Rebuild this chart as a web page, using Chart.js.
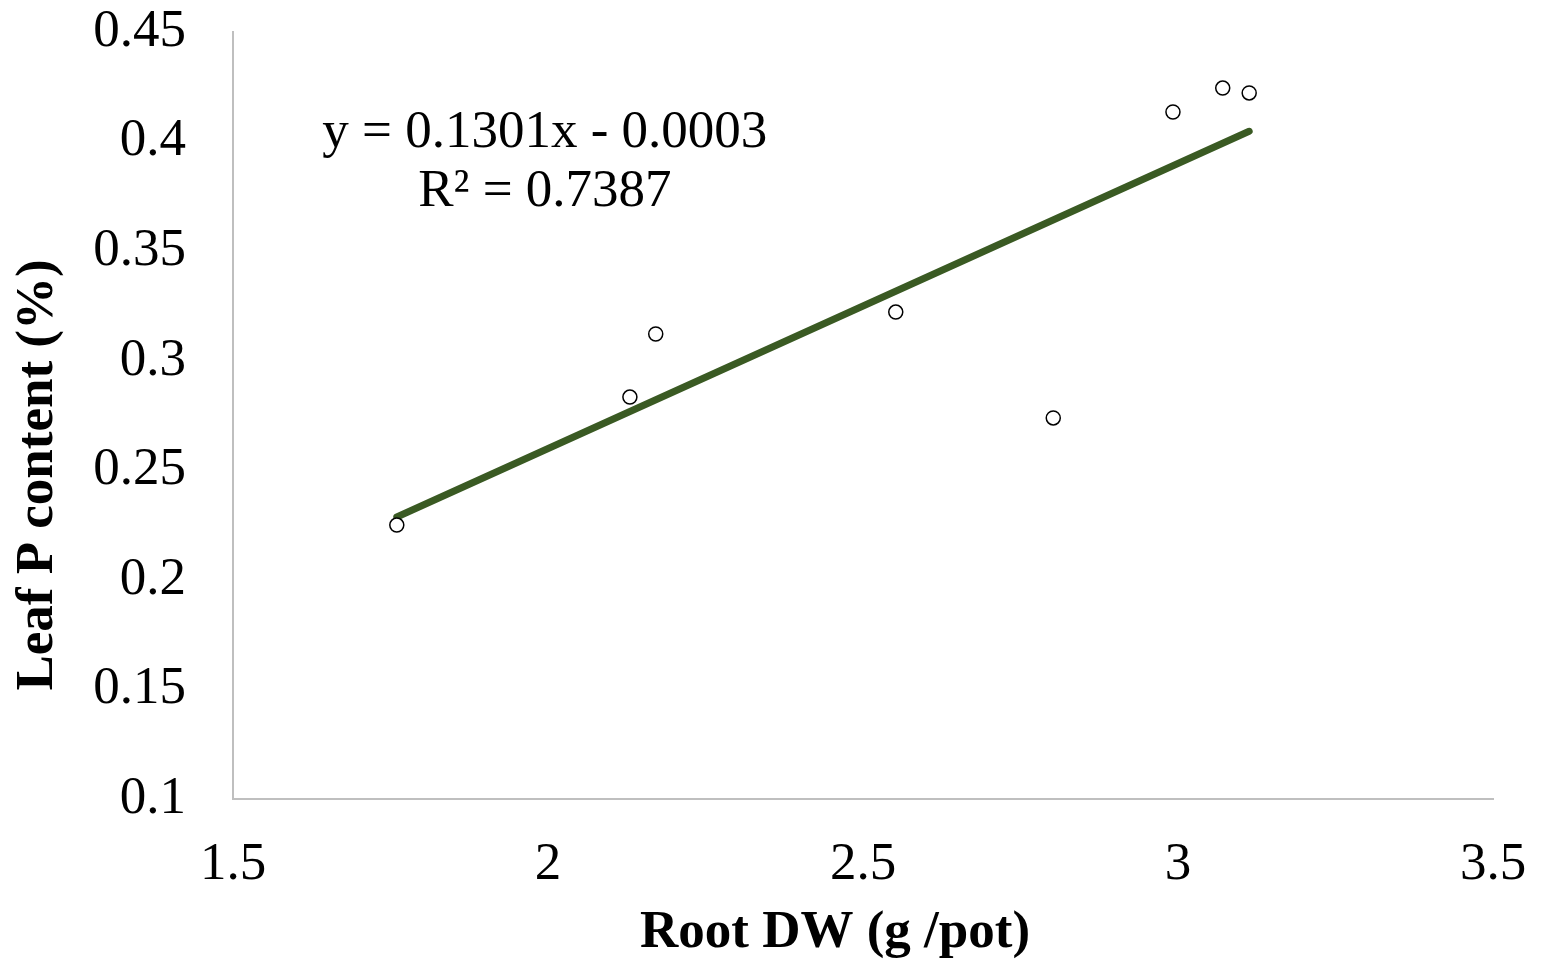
<!DOCTYPE html>
<html>
<head>
<meta charset="utf-8">
<script src="https://cdn.jsdelivr.net/npm/chart.js@4.4.1/dist/chart.umd.min.js"></script>
<style>
  html, body { margin: 0; padding: 0; background: #ffffff; }
  #c { display: block; }
</style>
</head>
<body>
<canvas id="c" width="1545" height="963"></canvas>
<script>
// ---- data ----
const rootDW = [1.76, 2.13, 2.171, 2.552, 2.802, 2.992, 3.071, 3.113];
const leafP  = [0.225, 0.2834, 0.3122, 0.3222, 0.2739, 0.4135, 0.4244, 0.4222];
const slope = 0.1301;
const intercept = -0.0003;
const equationText = "y = 0.1301x - 0.0003";
const r2Text = "R² = 0.7387";
const xTitle = "Root DW (g /pot)";
const yTitle = "Leaf P content (%)";
const xTicks = [1.5, 2, 2.5, 3, 3.5];
const yTicks = [0.1, 0.15, 0.2, 0.25, 0.3, 0.35, 0.4, 0.45];

const points = rootDW.map((x, i) => ({ x: x, y: leafP[i] }));
const xMin = Math.min(...rootDW), xMax = Math.max(...rootDW);
const trend = [
  { x: xMin, y: slope * xMin + intercept },
  { x: xMax, y: slope * xMax + intercept }
];

const SERIF = '"Liberation Serif", "Times New Roman", serif';

const textPlugin = {
  id: 'texts',
  afterDraw(chart) {
    const ctx = chart.ctx;
    ctx.save();
    ctx.fillStyle = '#000000';
    ctx.textAlign = 'center';
    ctx.textBaseline = 'alphabetic';
    ctx.font = '53px ' + SERIF;
    const xs = chart.scales.x, ys = chart.scales.y;
    const ex = xs.getPixelForValue(1.995);
    ctx.fillText(equationText, ex, ys.getPixelForValue(0.3975));
    ctx.fillText(r2Text, ex, ys.getPixelForValue(0.3706));
    ctx.font = 'bold 53px ' + SERIF;
    ctx.fillText(xTitle, 835, 947);
    ctx.translate(38, 475);
    ctx.rotate(-Math.PI / 2);
    ctx.textBaseline = 'middle';
    ctx.fillText(yTitle, 0, 0);
    ctx.restore();
  }
};

new Chart(document.getElementById('c'), {
  type: 'scatter',
  data: {
    datasets: [
      {
        type: 'line',
        data: trend,
        borderColor: '#3a5a23',
        borderWidth: 7,
        borderCapStyle: 'round',
        pointRadius: 0,
        fill: false,
        order: 2
      },
      {
        data: points,
        pointRadius: 7,
        pointBorderWidth: 1.5,
        pointBorderColor: '#000000',
        pointBackgroundColor: '#ffffff',
        showLine: false,
        order: 1
      }
    ]
  },
  options: {
    responsive: false,
    animation: false,
    devicePixelRatio: 1,
    layout: { padding: { top: 32, right: 52, left: 0, bottom: 0 } },
    plugins: { legend: { display: false }, tooltip: { enabled: false } },
    scales: {
      x: {
        type: 'linear',
        min: 1.5, max: 3.5,
        afterBuildTicks(s) { s.ticks = xTicks.map(v => ({ value: v })); },
        afterFit(s) { s.height = 164; s.paddingLeft = 0; s.paddingRight = 0; s.paddingTop = 0; s.paddingBottom = 0; },
        grid: { color: 'rgba(0,0,0,0)', drawTicks: false },
        border: { display: true, color: '#bfbfbf', width: 2 },
        ticks: {
          padding: 34,
          color: '#000000',
          font: { family: SERIF, size: 53 },
          maxRotation: 0,
          callback: v => String(v)
        }
      },
      y: {
        type: 'linear',
        min: 0.1, max: 0.45,
        afterBuildTicks(s) { s.ticks = yTicks.map(v => ({ value: v })); },
        afterFit(s) { s.width = 233; s.paddingLeft = 0; s.paddingRight = 0; s.paddingTop = 0; s.paddingBottom = 0; },
        grid: { color: 'rgba(0,0,0,0)', drawTicks: false },
        border: { display: true, color: '#bfbfbf', width: 2 },
        ticks: {
          padding: 47,
          color: '#000000',
          font: { family: SERIF, size: 53 },
          callback: v => String(parseFloat(v.toFixed(2)))
        }
      }
    }
  },
  plugins: [textPlugin]
});
</script>
</body>
</html>
